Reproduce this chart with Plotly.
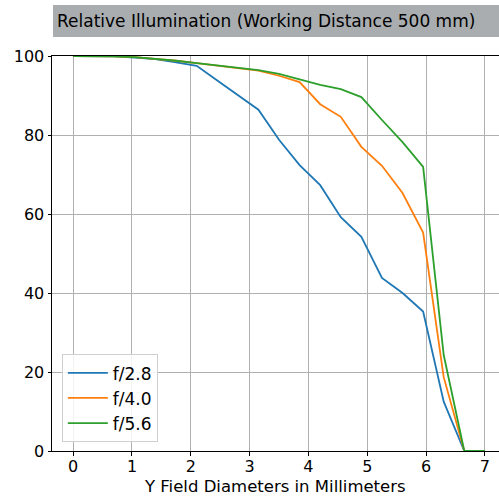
import plotly.graph_objects as go

x_mm = [0.0, 0.35, 0.7, 1.05, 1.4, 1.75, 2.1, 2.45, 2.8, 3.15, 3.5, 3.85, 4.2,
        4.55, 4.9, 5.25, 5.6, 5.95, 6.3, 6.65, 7.0]
f28 = [100, 100, 99.9, 99.6, 99.2, 98.4, 97.5, 93.8, 90.1, 86.4, 78.8, 72.4, 67.3,
       59.2, 54.2, 43.8, 40.0, 35.3, 12.5, 0, 0]
f40 = [100, 100, 99.9, 99.7, 99.3, 98.8, 98.2, 97.6, 97.0, 96.3, 95.0, 93.4, 87.8,
       84.6, 77.0, 72.2, 65.3, 55.3, 18.7, 0, 0]
f56 = [100, 100, 99.9, 99.7, 99.3, 98.8, 98.2, 97.6, 97.0, 96.4, 95.5, 94.1, 92.7,
       91.6, 89.6, 83.8, 78.2, 71.9, 24.3, 0, 0]
series_names = ["f/2.8", "f/4.0", "f/5.6"]
series_colors = ["#1f77b4", "#ff7f0e", "#2ca02c"]
x_ticks = [0, 1, 2, 3, 4, 5, 6, 7]
y_ticks = [0, 20, 40, 60, 80, 100]

FONT = "DejaVu Sans"
FS = 17
W, H = 499, 497
L, R, T, B = 52, 0, 56, 46
PW, PH = W - L - R, H - T - B

fig = go.Figure()
for name, ys, col in zip(series_names, [f28, f40, f56], series_colors):
    fig.add_trace(go.Scatter(x=x_mm, y=ys, mode="lines", name=name,
                             line=dict(color=col, width=1.8)))

axis_common = dict(showgrid=True, gridcolor="#b0b0b0", gridwidth=1,
                   showline=True, linecolor="black", linewidth=1,
                   ticks="outside", ticklen=3.5, tickcolor="black",
                   tickfont=dict(family=FONT, size=16, color="black"),
                   zeroline=False, mirror=True)

fig.update_layout(
    width=W, height=H,
    margin=dict(l=L, r=R, t=T, b=B),
    paper_bgcolor="white", plot_bgcolor="white",
    font=dict(family=FONT, color="black"),
    xaxis=dict(range=[-0.36, 7.24], tickvals=x_ticks, ticklabelstandoff=-3,
               **axis_common),
    yaxis=dict(range=[0, 100], tickvals=y_ticks, **axis_common),
    legend=dict(x=0.022, y=0.022, xanchor="left", yanchor="bottom",
                bgcolor="rgba(255,255,255,0.85)", bordercolor="#d0d0d0",
                borderwidth=1, font=dict(family=FONT, size=FS),
                itemwidth=40, tracegroupgap=2),
    showlegend=True,
)

# X axis title placed at the bottom edge
fig.add_annotation(xref="paper", yref="paper",
                   x=(275 - L) / PW, y=-(H - 451) / PH,
                   xanchor="center", yanchor="bottom", showarrow=False,
                   borderpad=0,
                   text="Y Field Diameters in Millimeters",
                   font=dict(family=FONT, size=16.5, color="black"))

# Title box
fig.add_shape(type="rect", xref="paper", yref="paper",
              x0=(53 - L) / PW, x1=1.0,
              y0=1 + (T - 37) / PH, y1=1 + (T - 5) / PH,
              fillcolor="#a9adb0", line=dict(width=0), layer="below")
fig.add_annotation(xref="paper", yref="paper",
                   x=(55 - L) / PW, y=1 + (T - 21) / PH,
                   xanchor="left", yanchor="middle", showarrow=False,
                   text="Relative Illumination (Working Distance 500 mm)",
                   font=dict(family=FONT, size=FS, color="black"))

fig.write_html("out.html", config={"displayModeBar": False},
               post_script="document.body.style.margin='0';document.body.style.padding='0';document.body.style.overflow='hidden';")
